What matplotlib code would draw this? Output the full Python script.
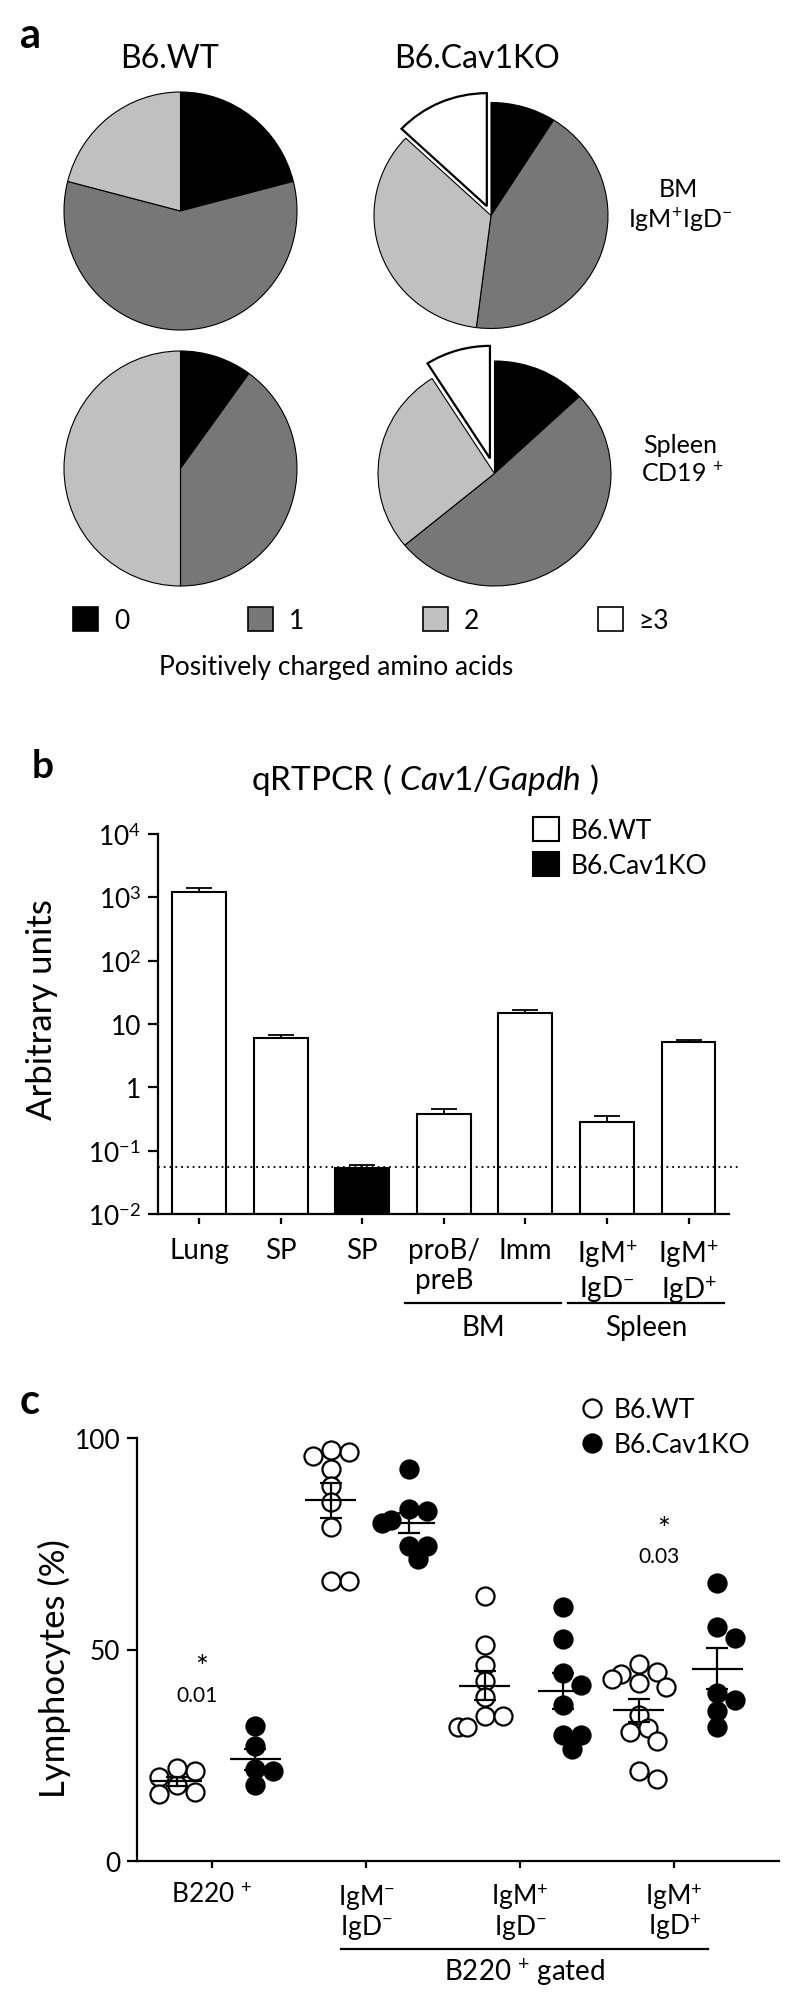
import numpy as np
import matplotlib
matplotlib.use("Agg")
import matplotlib.pyplot as plt
import matplotlib.transforms as mtransforms
from matplotlib.patches import Patch
from matplotlib.lines import Line2D
from matplotlib.ticker import NullLocator

plt.rcParams['font.family'] = ['Lato', 'DejaVu Sans']
plt.rcParams['mathtext.fontset'] = 'custom'
plt.rcParams['mathtext.rm'] = 'Lato'
plt.rcParams['mathtext.it'] = 'Lato:italic'
plt.rcParams['mathtext.bf'] = 'Lato:bold'

W, H = 800, 2008

# --- panel a: % of sequences by number of positively charged amino acids
charge_labels = ["0", "1", "2", "≥3"]
charge_colors = ["#000000", "#777777", "#c0c0c0", "#ffffff"]
wt_bm = [21, 58, 21]
wt_spleen = [10, 40, 50]
ko_bm = [9, 43, 35, 13]
ko_spleen = [13, 51, 27, 9]

# --- panel b: qRTPCR Cav1/Gapdh
qpcr_labels = ["Lung", "SP", "SP", "proB/\npreB", "Imm",
               "IgM$^{+}$\nIgD$^{-}$", "IgM$^{+}$\nIgD$^{+}$"]
qpcr_strain = ["WT", "WT", "KO", "WT", "WT", "WT", "WT"]
qpcr_mean = [1220, 6.0, 0.053, 0.38, 15.0, 0.28, 5.2]
qpcr_err = [190, 0.7, 0.006, 0.07, 1.5, 0.07, 0.3]
detection_limit = 0.055
qpcr_groups = [("BM", 3, 4), ("Spleen", 5, 6)]

# --- panel c: lymphocytes (%)
pop_labels = ["B220 $^{+}$", "IgM$^{-}$\nIgD$^{-}$",
              "IgM$^{+}$\nIgD$^{-}$", "IgM$^{+}$\nIgD$^{+}$"]
wt_pct = [
    [18.0, 21.3, 22.1, 19.8, 15.8, 16.2],
    [96.6, 97.2, 95.7, 92.7, 88.7, 84.8, 78.9, 66.3, 66.3],
    [62.6, 51.1, 46.3, 42.6, 38.8, 34.3, 34.3, 31.7, 31.7],
    [46.5, 44.3, 44.7, 42.1, 41.2, 43.0, 34.5, 31.4, 30.6, 28.3, 19.5, 21.3],
]
ko_pct = [
    [32.0, 27.3, 21.7, 21.3, 18.0],
    [92.7, 83.2, 82.8, 80.5, 80.0, 74.5, 74.5, 71.4],
    [60.0, 52.5, 44.4, 41.6, 36.9, 29.8, 29.8, 26.5],
    [65.8, 55.3, 52.7, 39.6, 38.1, 35.4, 31.6],
]
# group index, p value text, y of star, y of p value
pvals = [(0, "0.01", 45.9, 39.2), (3, "0.03", 78.5, 72.1)]

fig = plt.figure(figsize=(W / 100, H / 100), dpi=100)


def px_axes(x0, y0, x1, y1):
    return fig.add_axes([x0 / W, 1 - y1 / H, (x1 - x0) / W, (y1 - y0) / H])


def fx(px):
    return px / W


def fy(py):
    return 1 - py / H


# ================= panel a =================
fig.text(fx(20), fy(48), "a", fontsize=30, fontweight="bold", va="baseline")
fig.text(fx(170), fy(68), "B6.WT", fontsize=23, ha="center", va="baseline")
fig.text(fx(477), fy(68), "B6.Cav1KO", fontsize=23, ha="center", va="baseline")


def draw_pie(cx, cy, rx, ry, vals, expl=0.0):
    ax = px_axes(cx - rx, cy - ry, cx + rx, cy + ry)
    explode = [expl if i == 3 else 0 for i in range(len(vals))]
    wedges, _ = ax.pie(vals, colors=charge_colors[:len(vals)], startangle=90,
                       counterclock=False, explode=explode,
                       wedgeprops=dict(edgecolor="black", linewidth=0.8))
    for w in wedges:
        w.set_clip_on(False)
    if len(wedges) == 4:
        wedges[3].set_linewidth(1.6)
    ax.set_aspect("auto")
    ax.set_xlim(-1, 1)
    ax.set_ylim(-1, 1)
    ax.axis("off")


draw_pie(180.5, 212, 116.5, 119, wt_bm)
draw_pie(180.5, 469.5, 116.5, 117.5, wt_spleen)
draw_pie(491, 216.5, 117, 113, ko_bm, expl=0.09)
draw_pie(494.5, 474.5, 116.5, 112.5, ko_spleen, expl=0.14)

fig.text(fx(678), fy(197), "BM", fontsize=18, ha="center", va="baseline")
fig.text(fx(680), fy(228), "IgM$^{+}$IgD$^{-}$", fontsize=18, ha="center", va="baseline")
fig.text(fx(680), fy(453), "Spleen", fontsize=18, ha="center", va="baseline")
fig.text(fx(682), fy(481), "CD19 $^{+}$", fontsize=18, ha="center", va="baseline")

pie_handles = [Patch(facecolor=c, edgecolor="black", linewidth=1.2) for c in charge_colors]
fig.legend(pie_handles, charge_labels, loc="upper left", ncol=4,
           bbox_to_anchor=(fx(73), fy(608)), frameon=False, fontsize=19,
           handlelength=0.95, handleheight=1.0, handletextpad=0.6,
           columnspacing=4.5, borderpad=0, borderaxespad=0)
fig.text(fx(336), fy(675), "Positively charged amino acids", fontsize=19,
         ha="center", va="baseline")

# ================= panel b =================
fig.text(fx(32), fy(778), "b", fontsize=28, fontweight="bold", va="baseline")
fig.text(fx(425), fy(790), "qRTPCR ( $\\mathit{Cav1/Gapdh}$ )", fontsize=24,
         ha="center", va="baseline")

axb = px_axes(157.7, 835, 729, 1215)
xb = np.arange(len(qpcr_labels))
bar_colors = ["white" if s == "WT" else "black" for s in qpcr_strain]
axb.set_yscale("log")
axb.bar(xb, np.array(qpcr_mean) - 0.01, bottom=0.01, width=0.66,
        color=bar_colors, edgecolor="black", linewidth=1.5, zorder=2)
axb.errorbar(xb, qpcr_mean, yerr=[np.zeros(len(xb)), qpcr_err], fmt="none",
             ecolor="black", elinewidth=1.3, capsize=9.5, capthick=1.3, zorder=3)
axb.set_xlim(-0.506, 6.496)
axb.set_ylim(1e-2, 1e4)
axb.axhline(detection_limit, xmin=0, xmax=1.016, color="black",
            linestyle=(0, (1, 2.2)), linewidth=1.3, clip_on=False, zorder=4)
axb.set_yticks([1e-2, 1e-1, 1, 10, 1e2, 1e3, 1e4])
axb.set_yticklabels(["10$^{-2}$", "10$^{-1}$", "1", "10", "10$^{2}$", "10$^{3}$", "10$^{4}$"])
axb.yaxis.set_minor_locator(NullLocator())
axb.set_xticks(xb)
axb.set_xticklabels(qpcr_labels, linespacing=1.05)
for s in ["top", "right"]:
    axb.spines[s].set_visible(False)
axb.spines["left"].set_linewidth(1.6)
axb.spines["bottom"].set_position(("outward", 3))
axb.spines["bottom"].set_visible(False)
axb.axhline(1e-2, color="black", linewidth=1.6, clip_on=False, zorder=5)
axb.tick_params(axis="y", length=7, width=1.6, labelsize=19, pad=5)
axb.tick_params(axis="x", length=4.5, width=1.6, labelsize=20, pad=9)

trb = mtransforms.blended_transform_factory(axb.transData, fig.transFigure)
for name, i0, i1 in qpcr_groups:
    axb.plot([i0 - 0.48, i1 + 0.44], [fy(1304), fy(1304)], color="black",
             linewidth=1.6, transform=trb, clip_on=False)
    axb.text((i0 - 0.48 + i1 + 0.44) / 2, fy(1336), name, transform=trb,
             ha="center", va="baseline", fontsize=20)

leg_b = [Patch(facecolor="white", edgecolor="black", linewidth=1.5),
         Patch(facecolor="black", edgecolor="black", linewidth=1.5)]
fig.legend(leg_b, ["B6.WT", "B6.Cav1KO"], loc="upper left",
           bbox_to_anchor=(fx(533), fy(818)), frameon=False, fontsize=19,
           handlelength=1.0, handleheight=1.0, handletextpad=0.42,
           labelspacing=0.36, borderpad=0, borderaxespad=0)
fig.text(fx(42), fy(1010), "Arbitrary units", rotation=90, fontsize=25,
         ha="center", va="center")

# ================= panel c =================
fig.text(fx(20), fy(1414), "c", fontsize=30, fontweight="bold", va="baseline")
axc = px_axes(137, 1439, 779, 1862)
axc.set_xlim(-0.487, 3.68)
axc.set_ylim(0, 100)
PX_X = (779 - 137) / (3.68 + 0.487)
PX_Y = (1862 - 1439) / 100.0


def swarm(values, d=15.0):
    values = np.asarray(values, dtype=float)
    order = np.argsort(values)[::-1]
    placed = []
    offs = np.zeros(len(values))
    for i in order:
        y = values[i] * PX_Y
        x = 0.0
        for k in [0, 1, -1, 2, -2, 3, -3]:
            x = k * d * 0.6
            if all((x - a) ** 2 + (y - b) ** 2 >= d ** 2 for a, b in placed):
                break
        placed.append((x, y))
        offs[i] = x / PX_X
    return offs


def draw_group(xc, vals, face):
    vals = np.asarray(vals, dtype=float)
    xs = xc + swarm(vals)
    axc.plot(xs, vals, linestyle="none", marker="o", ms=13, mfc=face,
             mec="black", mew=1.6, zorder=3, clip_on=False)
    m = vals.mean()
    sem = vals.std(ddof=1) / np.sqrt(len(vals))
    axc.hlines(m, xc - 0.165, xc + 0.165, color="black", linewidth=1.6, zorder=4)
    axc.errorbar(xc, m, yerr=sem, fmt="none", ecolor="black", elinewidth=1.6,
                 capsize=8, capthick=1.6, zorder=4)


for i in range(len(pop_labels)):
    draw_group(i - 0.23, wt_pct[i], "white")
    draw_group(i + 0.28, ko_pct[i], "black")

for i, p, y_star, y_p in pvals:
    axc.text(i - 0.07, y_star, "*", ha="center", va="center", fontsize=22)
    axc.text(i - 0.10, y_p, p, ha="center", va="center", fontsize=15)

axc.set_yticks([0, 50, 100])
axc.set_xticks(range(len(pop_labels)))
axc.set_xticklabels(pop_labels, linespacing=1.05)
for s in ["top", "right"]:
    axc.spines[s].set_visible(False)
axc.spines["left"].set_linewidth(1.6)
axc.spines["bottom"].set_linewidth(1.6)
axc.tick_params(axis="y", length=7, width=1.6, labelsize=19, pad=5)
axc.tick_params(axis="x", length=5, width=1.6, labelsize=19, pad=10)

trc = mtransforms.blended_transform_factory(axc.transData, fig.transFigure)
axc.plot([1 - 0.16, 3 + 0.22], [fy(1950), fy(1950)], color="black",
         linewidth=1.6, transform=trc, clip_on=False)
axc.text((1 - 0.16 + 3 + 0.22) / 2, fy(1981), "B220 $^{+}$ gated", transform=trc,
         ha="center", va="baseline", fontsize=20)

leg_c = [Line2D([], [], linestyle="none", marker="o", ms=13, mfc="white", mec="black", mew=1.6),
         Line2D([], [], linestyle="none", marker="o", ms=13, mfc="black", mec="black", mew=1.6)]
fig.legend(leg_c, ["B6.WT", "B6.Cav1KO"], loc="upper left",
           bbox_to_anchor=(fx(579), fy(1398)), frameon=False, fontsize=19,
           handlelength=1.0, handletextpad=0.3, labelspacing=0.38,
           borderpad=0, borderaxespad=0)
fig.text(fx(54), fy(1669), "Lymphocytes (%)", rotation=90, fontsize=25,
         ha="center", va="center")

fig.savefig("out.png", dpi=100)
